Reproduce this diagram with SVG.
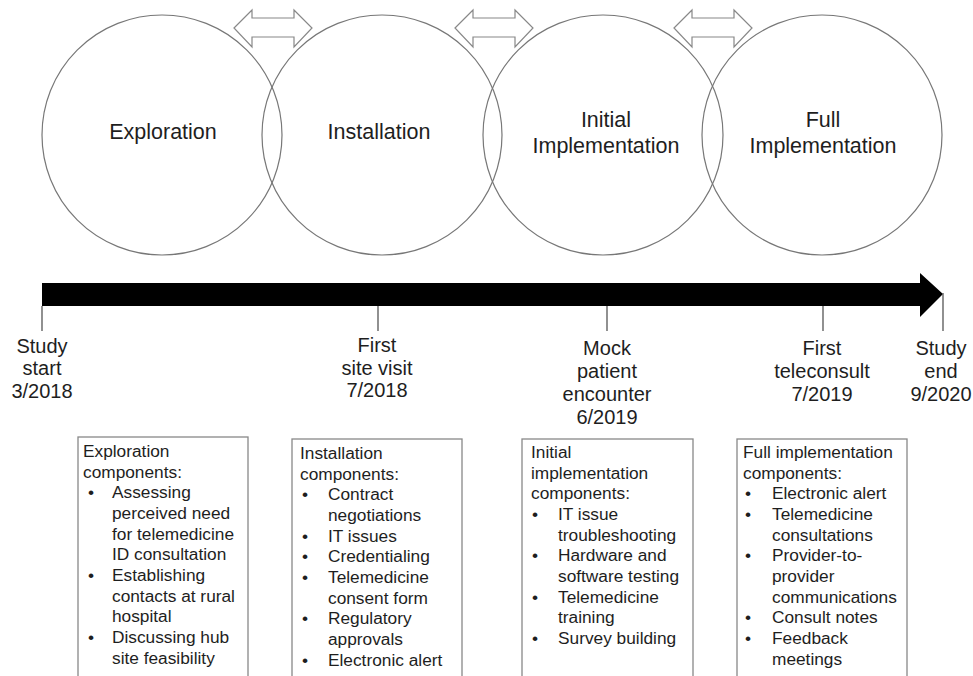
<svg xmlns="http://www.w3.org/2000/svg" width="973" height="676" viewBox="0 0 973 676">
<style>
text{font-family:"Liberation Sans",Arial,sans-serif;fill:#1e1e1e}
.phase{fill:none;stroke:#777;stroke-width:1.2}
.dbl{fill:#fff;stroke:#888;stroke-width:1.2}
.ptxt{font-size:21.5px;text-anchor:middle}
.tick{stroke:#555;stroke-width:1.3}
.tl{font-size:20px;text-anchor:middle}
.box{fill:#fff;stroke:#888;stroke-width:1.3}
.bt{font-size:17.3px}
</style>
<rect width="973" height="676" fill="#fff"/>
<g id="phase-exploration">
<circle class="phase" cx="162" cy="135" r="120"/>
<text class="ptxt" x="163" y="139">Exploration</text>
</g>
<g id="phase-installation">
<circle class="phase" cx="382" cy="135" r="120"/>
<text class="ptxt" x="379" y="139">Installation</text>
</g>
<g id="phase-initial">
<circle class="phase" cx="603" cy="135" r="120"/>
<text class="ptxt" x="606" y="127">Initial</text>
<text class="ptxt" x="606" y="153">Implementation</text>
</g>
<g id="phase-full">
<circle class="phase" cx="822" cy="135" r="120"/>
<text class="ptxt" x="823" y="127">Full</text>
<text class="ptxt" x="823" y="153">Implementation</text>
</g>
<g id="connectors">
<polygon class="dbl" points="234,28 252,10 252,18 294,18 294,10 312,28 294,47 294,37 252,37 252,47"/>
<polygon class="dbl" points="455,28 473,10 473,18 515,18 515,10 533,28 515,47 515,37 473,37 473,47"/>
<polygon class="dbl" points="674,28 692,10 692,18 734,18 734,10 752,28 734,47 734,37 692,37 692,47"/>
</g>
<g id="timeline">
<polygon points="42,283 920,283 920,273 943,294 920,317 920,306 42,306" fill="#000"/>
<line class="tick" x1="42" y1="306" x2="42" y2="331"/>
<line class="tick" x1="378" y1="306" x2="378" y2="331"/>
<line class="tick" x1="607" y1="306" x2="607" y2="331"/>
<line class="tick" x1="823" y1="306" x2="823" y2="331"/>
<line class="tick" x1="943" y1="293" x2="943" y2="331"/>
</g>
<g id="milestone-start">
<text class="tl" x="42" y="353">Study</text>
<text class="tl" x="42" y="375">start</text>
<text class="tl" x="42" y="398">3/2018</text>
</g>
<g id="milestone-site-visit">
<text class="tl" x="377" y="352">First</text>
<text class="tl" x="377" y="375">site visit</text>
<text class="tl" x="377" y="397">7/2018</text>
</g>
<g id="milestone-mock">
<text class="tl" x="607" y="355">Mock</text>
<text class="tl" x="607" y="378">patient</text>
<text class="tl" x="607" y="401">encounter</text>
<text class="tl" x="607" y="424">6/2019</text>
</g>
<g id="milestone-teleconsult">
<text class="tl" x="822" y="355">First</text>
<text class="tl" x="822" y="378">teleconsult</text>
<text class="tl" x="822" y="401">7/2019</text>
</g>
<g id="milestone-end">
<text class="tl" x="941" y="355">Study</text>
<text class="tl" x="941" y="378">end</text>
<text class="tl" x="941" y="401">9/2020</text>
</g>
<g id="box-exploration">
<rect class="box" x="78" y="437" width="170" height="260"/>
<text class="bt" x="83" y="457">Exploration</text>
<text class="bt" x="83" y="477.7">components:</text>
<text class="bt" x="88" y="498.3">•</text><text class="bt" x="112" y="498.3">Assessing</text>
<text class="bt" x="112" y="519">perceived need</text>
<text class="bt" x="112" y="539.6">for telemedicine</text>
<text class="bt" x="112" y="560.3">ID consultation</text>
<text class="bt" x="88" y="581">•</text><text class="bt" x="112" y="581">Establishing</text>
<text class="bt" x="112" y="601.6">contacts at rural</text>
<text class="bt" x="112" y="622.2">hospital</text>
<text class="bt" x="88" y="643">•</text><text class="bt" x="112" y="643">Discussing hub</text>
<text class="bt" x="112" y="663.5">site feasibility</text>
</g>
<g id="box-installation">
<rect class="box" x="292" y="439" width="170" height="260"/>
<text class="bt" x="300" y="459">Installation</text>
<text class="bt" x="300" y="479.6">components:</text>
<text class="bt" x="302" y="500.3">•</text><text class="bt" x="328" y="500.3">Contract</text>
<text class="bt" x="328" y="521">negotiations</text>
<text class="bt" x="302" y="541.6">•</text><text class="bt" x="328" y="541.6">IT issues</text>
<text class="bt" x="302" y="562.2">•</text><text class="bt" x="328" y="562.2">Credentialing</text>
<text class="bt" x="302" y="583">•</text><text class="bt" x="328" y="583">Telemedicine</text>
<text class="bt" x="328" y="603.5">consent form</text>
<text class="bt" x="302" y="624.2">•</text><text class="bt" x="328" y="624.2">Regulatory</text>
<text class="bt" x="328" y="644.8">approvals</text>
<text class="bt" x="302" y="665.5">•</text><text class="bt" x="328" y="665.5">Electronic alert</text>
</g>
<g id="box-initial">
<rect class="box" x="522" y="439" width="171" height="260"/>
<text class="bt" x="531" y="458">Initial</text>
<text class="bt" x="531" y="478.6">implementation</text>
<text class="bt" x="531" y="499.3">components:</text>
<text class="bt" x="532" y="520">•</text><text class="bt" x="558" y="520">IT issue</text>
<text class="bt" x="558" y="540.6">troubleshooting</text>
<text class="bt" x="532" y="561.2">•</text><text class="bt" x="558" y="561.2">Hardware and</text>
<text class="bt" x="558" y="582">software testing</text>
<text class="bt" x="532" y="602.5">•</text><text class="bt" x="558" y="602.5">Telemedicine</text>
<text class="bt" x="558" y="623.2">training</text>
<text class="bt" x="532" y="643.8">•</text><text class="bt" x="558" y="643.8">Survey building</text>
</g>
<g id="box-full">
<rect class="box" x="737" y="439" width="170" height="260"/>
<text class="bt" x="743" y="458">Full implementation</text>
<text class="bt" x="743" y="478.6">components:</text>
<text class="bt" x="745" y="499.3">•</text><text class="bt" x="772" y="499.3">Electronic alert</text>
<text class="bt" x="745" y="520">•</text><text class="bt" x="772" y="520">Telemedicine</text>
<text class="bt" x="772" y="540.6">consultations</text>
<text class="bt" x="745" y="561.2">•</text><text class="bt" x="772" y="561.2">Provider-to-</text>
<text class="bt" x="772" y="582">provider</text>
<text class="bt" x="772" y="602.5">communications</text>
<text class="bt" x="745" y="623.2">•</text><text class="bt" x="772" y="623.2">Consult notes</text>
<text class="bt" x="745" y="643.8">•</text><text class="bt" x="772" y="643.8">Feedback</text>
<text class="bt" x="772" y="664.5">meetings</text>
</g>
</svg>
